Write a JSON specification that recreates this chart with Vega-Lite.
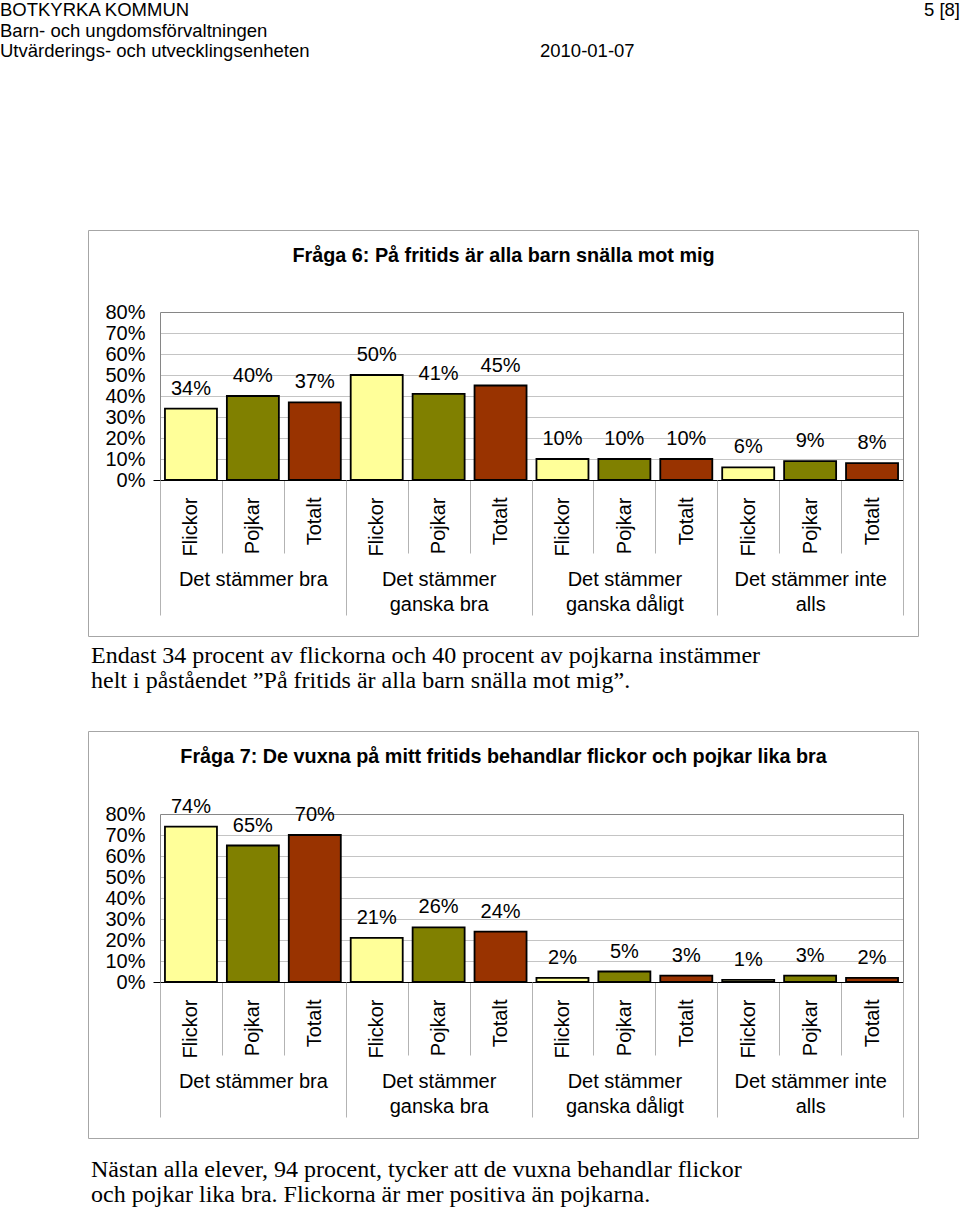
{
  "$schema": "https://vega.github.io/schema/vega-lite/v6.json",
  "background": "white",
  "padding": 0,
  "bounds": "flush",
  "spacing": 95,
  "config": {
    "font": "Liberation Sans",
    "view": {"stroke": "#a6a6a6", "strokeWidth": 1, "fill": "white"},
    "axis": {"labelFont": "Liberation Sans", "labelColor": "black", "labelFontSize": 20, "title": null},
    "text": {"font": "Liberation Sans", "color": "black"}
  },
  "datasets": {
    "sidhuvud": [
      {"text": "BOTKYRKA KOMMUN", "rad": 1, "del": "vänster"},
      {"text": "5 [8]", "rad": 1, "del": "sida"},
      {"text": "Barn- och ungdomsförvaltningen", "rad": 2, "del": "vänster"},
      {"text": "Utvärderings- och utvecklingsenheten", "rad": 3, "del": "vänster"},
      {"text": "2010-01-07", "rad": 3, "del": "datum"}
    ],
    "fraga6": [
      {"grupp": "Det stämmer bra", "kön": "Flickor", "stapel": "bra|Flickor", "andel": 0.34},
      {"grupp": "Det stämmer bra", "kön": "Pojkar", "stapel": "bra|Pojkar", "andel": 0.40},
      {"grupp": "Det stämmer bra", "kön": "Totalt", "stapel": "bra|Totalt", "andel": 0.37},
      {"grupp": "Det stämmer ganska bra", "kön": "Flickor", "stapel": "ganska bra|Flickor", "andel": 0.50},
      {"grupp": "Det stämmer ganska bra", "kön": "Pojkar", "stapel": "ganska bra|Pojkar", "andel": 0.41},
      {"grupp": "Det stämmer ganska bra", "kön": "Totalt", "stapel": "ganska bra|Totalt", "andel": 0.45},
      {"grupp": "Det stämmer ganska dåligt", "kön": "Flickor", "stapel": "ganska dåligt|Flickor", "andel": 0.10},
      {"grupp": "Det stämmer ganska dåligt", "kön": "Pojkar", "stapel": "ganska dåligt|Pojkar", "andel": 0.10},
      {"grupp": "Det stämmer ganska dåligt", "kön": "Totalt", "stapel": "ganska dåligt|Totalt", "andel": 0.10},
      {"grupp": "Det stämmer inte alls", "kön": "Flickor", "stapel": "inte alls|Flickor", "andel": 0.06},
      {"grupp": "Det stämmer inte alls", "kön": "Pojkar", "stapel": "inte alls|Pojkar", "andel": 0.09},
      {"grupp": "Det stämmer inte alls", "kön": "Totalt", "stapel": "inte alls|Totalt", "andel": 0.08}
    ],
    "fraga7": [
      {"grupp": "Det stämmer bra", "kön": "Flickor", "stapel": "bra|Flickor", "andel": 0.74},
      {"grupp": "Det stämmer bra", "kön": "Pojkar", "stapel": "bra|Pojkar", "andel": 0.65},
      {"grupp": "Det stämmer bra", "kön": "Totalt", "stapel": "bra|Totalt", "andel": 0.70},
      {"grupp": "Det stämmer ganska bra", "kön": "Flickor", "stapel": "ganska bra|Flickor", "andel": 0.21},
      {"grupp": "Det stämmer ganska bra", "kön": "Pojkar", "stapel": "ganska bra|Pojkar", "andel": 0.26},
      {"grupp": "Det stämmer ganska bra", "kön": "Totalt", "stapel": "ganska bra|Totalt", "andel": 0.24},
      {"grupp": "Det stämmer ganska dåligt", "kön": "Flickor", "stapel": "ganska dåligt|Flickor", "andel": 0.02},
      {"grupp": "Det stämmer ganska dåligt", "kön": "Pojkar", "stapel": "ganska dåligt|Pojkar", "andel": 0.05},
      {"grupp": "Det stämmer ganska dåligt", "kön": "Totalt", "stapel": "ganska dåligt|Totalt", "andel": 0.03},
      {"grupp": "Det stämmer inte alls", "kön": "Flickor", "stapel": "inte alls|Flickor", "andel": 0.01},
      {"grupp": "Det stämmer inte alls", "kön": "Pojkar", "stapel": "inte alls|Pojkar", "andel": 0.03},
      {"grupp": "Det stämmer inte alls", "kön": "Totalt", "stapel": "inte alls|Totalt", "andel": 0.02}
    ]
  },
  "vconcat": [
    {
      "width": 872,
      "height": 135,
      "view": {"stroke": null, "fill": null},
      "data": {"name": "sidhuvud"},
      "encoding": {
        "x": {"field": "del", "type": "nominal", "scale": {"type": "point", "domain": ["vänster", "datum", "sida"], "range": [-88, 872], "padding": 0}, "axis": null},
        "y": {"field": "rad", "type": "ordinal", "scale": {"type": "point", "range": [10, 51], "padding": 0}, "axis": null},
        "text": {"field": "text", "type": "nominal"}
      },
      "layer": [
        {"transform": [{"filter": "datum.del === 'vänster'"}], "mark": {"type": "text", "align": "left", "baseline": "middle", "fontSize": 18.5}},
        {"transform": [{"filter": "datum.del === 'datum'"}], "mark": {"type": "text", "align": "left", "baseline": "middle", "fontSize": 18.5, "dx": 60}},
        {"transform": [{"filter": "datum.del === 'sida'"}], "mark": {"type": "text", "align": "right", "baseline": "middle", "fontSize": 18.5}}
      ]
    },
    {
      "width": 830,
      "height": 406,
      "title": {"text": ["Endast 34 procent av flickorna och 40 procent av pojkarna instämmer", "helt i påståendet ”På fritids är alla barn snälla mot mig”."], "orient": "bottom", "anchor": "start", "frame": "group", "font": "Liberation Serif", "fontSize": 24, "fontWeight": "normal", "lineHeight": 25, "offset": 8, "dx": 3, "baseline": "top", "color": "black"},
      "data": {"name": "fraga6"},
      "layer": [
        {
          "mark": {"type": "bar", "width": {"band": 0.84}, "stroke": "black", "strokeWidth": 1.8},
          "encoding": {
            "x": {"field": "stapel", "type": "nominal", "sort": null, "scale": {"type": "band", "range": [72, 815], "paddingInner": 0, "paddingOuter": 0},
              "axis": {"orient": "bottom", "offset": -156, "domainColor": "black", "tickColor": "#b3b3b3", "tickSize": 73, "tickBand": "extent", "labelAngle": -90, "labelPadding": -56, "labelExpr": "datum.value ? split(datum.value, '|')[1] : ''"}},
            "y": {"field": "andel", "type": "quantitative", "stack": null, "scale": {"domain": [0, 0.8], "range": [250, 82], "nice": false},
              "axis": {"orient": "left", "offset": -72, "values": [0, 0.1, 0.2, 0.3, 0.4, 0.5, 0.6, 0.7, 0.8], "format": ".0%", "ticks": true, "tickSize": 7, "tickColor": "black", "tickOpacity": {"condition": {"test": "datum.value == 0", "value": 1}, "value": 0}, "labelPadding": 8, "domainColor": "#868686", "grid": true, "gridColor": {"condition": {"test": "datum.value >= 0.79", "value": "#868686"}, "value": "#c4c4c4"}}},
            "fill": {"field": "kön", "type": "nominal", "scale": {"domain": ["Flickor", "Pojkar", "Totalt"], "range": ["#FFFF99", "#808000", "#993300"]}, "legend": null}
          }
        },
        {
          "mark": {"type": "text", "fontSize": 20, "baseline": "middle", "dy": -20},
          "encoding": {
            "x": {"field": "stapel", "type": "nominal", "sort": null, "scale": {"type": "band", "range": [72, 815], "paddingInner": 0, "paddingOuter": 0},
              "axis": {"orient": "top", "offset": -25, "domain": false, "ticks": false, "labels": false, "grid": false, "title": "Fråga 6: På fritids är alla barn snälla mot mig", "titleFontSize": 19.8, "titleFontWeight": "bold", "titleColor": "black", "titleX": 415, "titleY": 0, "titleAlign": "center", "titleBaseline": "middle", "titleAngle": 0}},
            "y": {"field": "andel", "type": "quantitative", "stack": null, "axis": null},
            "text": {"field": "andel", "type": "quantitative", "format": ".0%"}
          }
        },
        {
          "mark": {"type": "bar", "opacity": 0},
          "encoding": {
            "x": {"field": "grupp", "type": "nominal", "sort": null, "scale": {"type": "band", "range": [72, 815], "paddingInner": 0, "paddingOuter": 0},
              "axis": {"orient": "bottom", "offset": -156, "domain": false, "tickBand": "extent", "tickSize": 135, "tickColor": "#b3b3b3", "labelAngle": 0, "labelPadding": -46, "labelBaseline": "top", "labelLineHeight": 25,
                "labelExpr": "!datum.value ? '' : datum.value == 'Det stämmer bra' ? datum.value : datum.value == 'Det stämmer inte alls' ? ['Det stämmer inte', 'alls'] : ['Det stämmer', replace(datum.value, 'Det stämmer ', '')]"}},
            "y": {"field": "andel", "type": "quantitative", "stack": null, "axis": {"orient": "right", "offset": -15, "labels": false, "ticks": false, "grid": false, "domainColor": "#868686"}}
          }
        }
      ],
      "resolve": {"scale": {"x": "independent"}, "axis": {"x": "independent", "y": "independent"}}
    },
    {
      "width": 830,
      "height": 407,
      "title": {"text": ["Nästan alla elever, 94 procent, tycker att de vuxna behandlar flickor", "och pojkar lika bra. Flickorna är mer positiva än pojkarna."], "orient": "bottom", "anchor": "start", "frame": "group", "font": "Liberation Serif", "fontSize": 24, "fontWeight": "normal", "lineHeight": 25, "offset": 20, "dx": 3, "baseline": "top", "color": "black"},
      "data": {"name": "fraga7"},
      "layer": [
        {
          "mark": {"type": "bar", "width": {"band": 0.84}, "stroke": "black", "strokeWidth": 1.8},
          "encoding": {
            "x": {"field": "stapel", "type": "nominal", "sort": null, "scale": {"type": "band", "range": [72, 815], "paddingInner": 0, "paddingOuter": 0},
              "axis": {"orient": "bottom", "offset": -156, "domainColor": "black", "tickColor": "#b3b3b3", "tickSize": 73, "tickBand": "extent", "labelAngle": -90, "labelPadding": -56, "labelExpr": "datum.value ? split(datum.value, '|')[1] : ''"}},
            "y": {"field": "andel", "type": "quantitative", "stack": null, "scale": {"domain": [0, 0.8], "range": [251, 83], "nice": false},
              "axis": {"orient": "left", "offset": -72, "values": [0, 0.1, 0.2, 0.3, 0.4, 0.5, 0.6, 0.7, 0.8], "format": ".0%", "ticks": true, "tickSize": 7, "tickColor": "black", "tickOpacity": {"condition": {"test": "datum.value == 0", "value": 1}, "value": 0}, "labelPadding": 8, "domainColor": "#868686", "grid": true, "gridColor": {"condition": {"test": "datum.value >= 0.79", "value": "#868686"}, "value": "#c4c4c4"}}},
            "fill": {"field": "kön", "type": "nominal", "scale": {"domain": ["Flickor", "Pojkar", "Totalt"], "range": ["#FFFF99", "#808000", "#993300"]}, "legend": null}
          }
        },
        {
          "mark": {"type": "text", "fontSize": 20, "baseline": "middle", "dy": -20},
          "encoding": {
            "x": {"field": "stapel", "type": "nominal", "sort": null, "scale": {"type": "band", "range": [72, 815], "paddingInner": 0, "paddingOuter": 0},
              "axis": {"orient": "top", "offset": -25, "domain": false, "ticks": false, "labels": false, "grid": false, "title": "Fråga 7: De vuxna på mitt fritids behandlar flickor och pojkar lika bra", "titleFontSize": 19.8, "titleFontWeight": "bold", "titleColor": "black", "titleX": 415, "titleY": 0, "titleAlign": "center", "titleBaseline": "middle", "titleAngle": 0}},
            "y": {"field": "andel", "type": "quantitative", "stack": null, "axis": null},
            "text": {"field": "andel", "type": "quantitative", "format": ".0%"}
          }
        },
        {
          "mark": {"type": "bar", "opacity": 0},
          "encoding": {
            "x": {"field": "grupp", "type": "nominal", "sort": null, "scale": {"type": "band", "range": [72, 815], "paddingInner": 0, "paddingOuter": 0},
              "axis": {"orient": "bottom", "offset": -156, "domain": false, "tickBand": "extent", "tickSize": 135, "tickColor": "#b3b3b3", "labelAngle": 0, "labelPadding": -46, "labelBaseline": "top", "labelLineHeight": 25,
                "labelExpr": "!datum.value ? '' : datum.value == 'Det stämmer bra' ? datum.value : datum.value == 'Det stämmer inte alls' ? ['Det stämmer inte', 'alls'] : ['Det stämmer', replace(datum.value, 'Det stämmer ', '')]"}},
            "y": {"field": "andel", "type": "quantitative", "stack": null, "axis": {"orient": "right", "offset": -15, "labels": false, "ticks": false, "grid": false, "domainColor": "#868686"}}
          }
        }
      ],
      "resolve": {"scale": {"x": "independent"}, "axis": {"x": "independent", "y": "independent"}}
    }
  ]
}
